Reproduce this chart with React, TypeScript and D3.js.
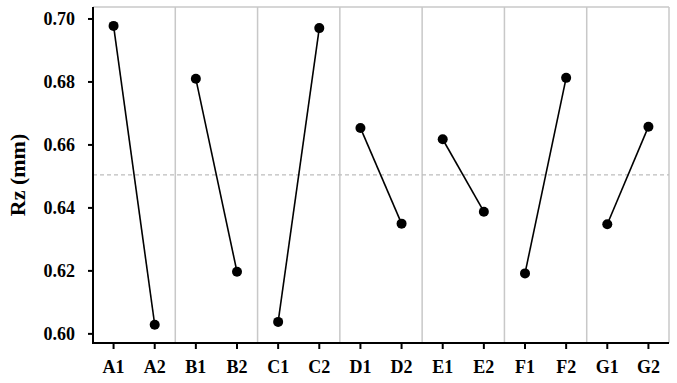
import React from "react";
import * as d3 from "d3";

const factors = ["A", "B", "C", "D", "E", "F", "G"];
const level1 = [0.6978, 0.681, 0.6038, 0.6654, 0.6618, 0.6192, 0.6348];
const level2 = [0.6029, 0.6197, 0.6971, 0.635, 0.6388, 0.6813, 0.6658];
const meanValue = 0.6505;
const yTicks = [0.6, 0.62, 0.64, 0.66, 0.68, 0.7];
const yLabel = "Rz (mm)";

const W = 677;
const H = 383;
const left = 93;
const right = 669;
const top = 7;
const bottom = 343;
const font = "'Liberation Serif', 'Times New Roman', serif";

export default function App() {
  const y = d3.scaleLinear().domain([0.5971, 0.7038]).range([bottom, top]);
  const panel = d3.scaleBand<string>().domain(factors).range([left, right]).padding(0);
  const bw = panel.bandwidth();
  const xPos = (f: string, lvl: number) => (panel(f) as number) + bw * (lvl === 1 ? 0.25 : 0.75);
  const line = d3.line<[number, number]>().x((d) => d[0]).y((d) => d[1]);

  return (
    <svg width={W} height={H} style={{ position: "absolute", left: 0, top: 0 }}>
      <rect x={0} y={0} width={W} height={H} fill="#fff" />
      {/* frame */}
      <line x1={left} x2={right} y1={top} y2={top} stroke="#c8c8c8" strokeWidth={1.5} />
      <line x1={right} x2={right} y1={top} y2={bottom} stroke="#c8c8c8" strokeWidth={1.5} />
      {factors.slice(1).map((f) => (
        <line key={f} x1={panel(f)} x2={panel(f)} y1={top} y2={bottom} stroke="#c8c8c8" strokeWidth={1.5} />
      ))}
      {/* mean line */}
      <line x1={left} x2={right} y1={y(meanValue)} y2={y(meanValue)} stroke="#bdbdbd" strokeWidth={1.2} strokeDasharray="4,3" />
      {/* series */}
      {factors.map((f, i) => {
        const pts: [number, number][] = [
          [xPos(f, 1), y(level1[i])],
          [xPos(f, 2), y(level2[i])],
        ];
        return (
          <g key={f}>
            <path d={line(pts) || ""} stroke="#000" strokeWidth={1.6} fill="none" />
            {pts.map((p, j) => (
              <circle key={j} cx={p[0]} cy={p[1]} r={5} fill="#000" />
            ))}
          </g>
        );
      })}
      {/* axes */}
      <line x1={left} x2={left} y1={top} y2={bottom + 1} stroke="#000" strokeWidth={2} />
      <line x1={left - 1} x2={right} y1={bottom} y2={bottom} stroke="#000" strokeWidth={2} />
      {yTicks.map((t) => (
        <g key={t}>
          <line x1={left - 5} x2={left} y1={y(t)} y2={y(t)} stroke="#000" strokeWidth={2} />
          <text x={75} y={y(t)} dy="0.36em" textAnchor="end" fontFamily={font} fontWeight="bold" fontSize={18} fill="#000">
            {t.toFixed(2)}
          </text>
        </g>
      ))}
      {factors.map((f) =>
        [1, 2].map((lvl) => (
          <g key={f + lvl}>
            <line x1={xPos(f, lvl)} x2={xPos(f, lvl)} y1={bottom} y2={bottom + 6} stroke="#000" strokeWidth={2} />
            <text x={xPos(f, lvl)} y={373} textAnchor="middle" fontFamily={font} fontWeight="bold" fontSize={18} fill="#000">
              {f + lvl}
            </text>
          </g>
        ))
      )}
      <text
        transform={`translate(25,${(top + bottom) / 2}) rotate(-90)`}
        textAnchor="middle"
        fontFamily={font}
        fontWeight="bold"
        fontSize={22}
        fill="#000"
      >
        {yLabel}
      </text>
    </svg>
  );
}
